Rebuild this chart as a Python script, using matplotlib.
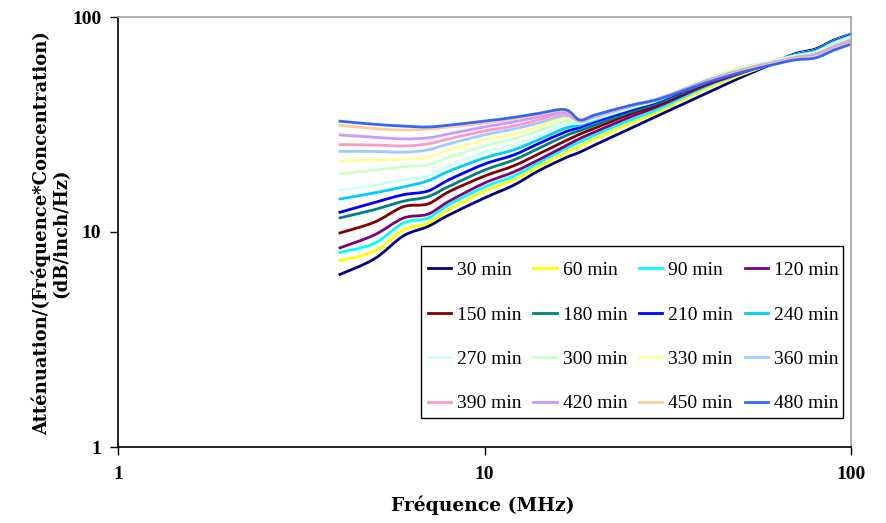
import matplotlib
matplotlib.use("Agg")
import numpy as np
import matplotlib.pyplot as plt
from matplotlib.ticker import FixedLocator, NullLocator, FixedFormatter
from matplotlib.path import Path
from matplotlib.patches import PathPatch, Rectangle
from matplotlib.lines import Line2D

plt.rcParams['font.family'] = ['Liberation Serif', 'DejaVu Serif']

freq = [4, 5, 6, 7, 8, 10, 12, 14, 16.6, 18.2, 20, 25, 30, 40, 50, 60, 70, 80, 90, 100]

labels = ["30 min", "60 min", "90 min", "120 min", "150 min", "180 min", "210 min", "240 min",
          "270 min", "300 min", "330 min", "360 min", "390 min", "420 min", "450 min", "480 min"]

s30 = [6.31, 7.49, 9.58, 10.6, 12.0, 14.4, 16.5, 19.2, 22.1, 23.5, 25.4, 30.3, 35.0, 43.9, 52.3, 59.8, 67.3, 71.0, 78.2, 83.1]
s60 = [7.35, 8.12, 10.2, 11.0, 12.7, 15.5, 17.5, 20.1, 23.3, 25.0, 27.1, 32.0, 36.5, 46.3, 53.7, 60.1, 66.6, 70.2, 77.4, 82.5]
s90 = [8.01, 8.84, 11.0, 11.6, 13.4, 16.2, 18.2, 20.9, 24.4, 26.2, 28.3, 33.2, 37.5, 47.3, 54.6, 60.8, 66.6, 70.2, 77.4, 82.5]
s120 = [8.40, 9.68, 11.6, 12.1, 13.9, 16.9, 19.0, 21.6, 25.1, 27.2, 29.2, 34.3, 38.6, 48.0, 54.8, 60.8, 66.2, 69.8, 76.9, 82.1]
s150 = [9.86, 11.1, 13.1, 13.5, 15.4, 18.2, 20.3, 23.0, 26.5, 28.5, 30.4, 35.4, 39.4, 48.8, 55.5, 60.8, 65.9, 69.5, 76.5, 81.6]
s180 = [11.6, 12.7, 13.9, 14.6, 16.3, 19.4, 21.6, 24.4, 28.0, 29.6, 31.4, 36.1, 40.0, 49.3, 56.1, 61.1, 65.9, 69.5, 76.5, 81.6]
s210 = [12.3, 13.7, 14.9, 15.5, 17.5, 20.7, 22.8, 25.7, 29.2, 30.6, 32.5, 36.9, 40.7, 49.9, 56.7, 61.5, 66.2, 69.8, 76.9, 82.1]
s240 = [14.2, 15.2, 16.2, 17.3, 19.2, 22.1, 24.1, 26.8, 30.4, 31.4, 33.2, 37.5, 41.1, 50.4, 57.3, 61.8, 66.2, 69.5, 76.5, 81.6]
s270 = [15.6, 16.5, 17.5, 18.2, 20.3, 23.6, 25.4, 28.0, 31.8, 32.0, 33.6, 37.7, 41.3, 50.9, 58.3, 62.1, 65.9, 68.7, 75.7, 80.7]
s300 = [18.6, 19.4, 20.1, 20.5, 22.3, 25.1, 27.1, 29.5, 32.8, 32.3, 33.9, 37.9, 41.5, 50.9, 58.0, 61.8, 65.5, 68.4, 74.9, 79.8]
s330 = [21.4, 21.6, 21.8, 22.3, 24.1, 26.8, 28.6, 30.8, 33.9, 32.5, 34.1, 38.1, 41.6, 50.6, 57.3, 61.5, 65.2, 68.0, 74.1, 79.0]
s360 = [23.7, 23.7, 23.5, 24.1, 25.7, 28.3, 30.1, 32.1, 34.8, 32.7, 34.3, 38.4, 41.7, 50.4, 56.7, 61.1, 64.8, 67.3, 73.3, 78.2]
s390 = [25.5, 25.4, 25.1, 25.7, 27.1, 29.5, 31.1, 33.2, 35.6, 32.8, 34.5, 38.5, 41.8, 50.1, 56.4, 60.8, 64.5, 66.6, 72.5, 77.4]
s420 = [28.3, 27.6, 27.1, 27.4, 28.6, 30.8, 32.5, 34.3, 36.3, 33.0, 34.6, 38.6, 41.8, 49.9, 56.1, 60.4, 64.1, 66.2, 71.7, 76.5]
s450 = [31.4, 30.3, 29.8, 30.1, 30.8, 32.1, 33.6, 35.2, 36.7, 33.1, 34.8, 38.7, 41.8, 49.6, 55.8, 60.1, 63.8, 65.5, 71.0, 75.7]
s480 = [32.8, 31.7, 31.1, 30.8, 31.4, 32.8, 34.1, 35.6, 37.1, 33.2, 35.0, 38.8, 41.6, 49.3, 55.2, 59.5, 63.1, 64.5, 70.2, 74.7]

series = [s30, s60, s90, s120, s150, s180, s210, s240,
          s270, s300, s330, s360, s390, s420, s450, s480]

colors = ["#000080", "#FFFF00", "#00FFFF", "#800080", "#800000", "#008080", "#0000FF", "#00CCFF",
          "#CCFFFF", "#CCFFCC", "#FFFF99", "#99CCFF", "#FF99CC", "#CC99FF", "#FFCC99", "#3366FF"]

ticks = [1, 10, 100]
tick_labels = ["1", "10", "100"]


def smoothed_path(x, y):
    """Smoothed (Catmull-Rom style) line through the data points, built in log space."""
    P = np.column_stack([np.log10(x), np.log10(y)])
    n = len(P)
    verts = [P[0]]
    codes = [Path.MOVETO]
    for i in range(n - 1):
        p0 = P[i - 1] if i > 0 else P[i]
        p1 = P[i]
        p2 = P[i + 1]
        p3 = P[i + 2] if i + 2 < n else P[i + 1]
        verts += [p1 + (p2 - p0) / 6.0, p2 - (p3 - p1) / 6.0, p2]
        codes += [Path.CURVE4] * 3
    return Path(10 ** np.array(verts), codes)


W, H = 886, 523
fig = plt.figure(figsize=(W / 100, H / 100), dpi=100)
ax = fig.add_axes([118 / W, 1 - 447 / H, (851 - 118) / W, (447 - 17) / H])

handles = []
for vals, c, lab in zip(series, colors, labels):
    ax.add_patch(PathPatch(smoothed_path(freq, vals), facecolor='none', edgecolor=c,
                           lw=2.0, joinstyle='round', capstyle='butt'))
    handles.append(Line2D([], [], color=c, lw=2.0, label=lab))

ax.set_xscale('log')
ax.set_yscale('log')
ax.set_xlim(1, 100)
ax.set_ylim(1, 100)
for a in (ax.xaxis, ax.yaxis):
    a.set_major_locator(FixedLocator(ticks))
    a.set_major_formatter(FixedFormatter(tick_labels))
    a.set_minor_locator(NullLocator())

ax.tick_params(axis='both', which='major', direction='out', length=6, width=1, colors='black',
               labelsize=14)
ax.tick_params(axis='y', pad=6)
ax.tick_params(axis='x', pad=8)
for lbl in ax.get_xticklabels() + ax.get_yticklabels():
    lbl.set_fontweight('bold')

ax.spines['left'].set_color('black')
ax.spines['bottom'].set_color('black')
ax.spines['top'].set_color('#A0A0A0')
ax.spines['right'].set_color('#A0A0A0')
for s in ax.spines.values():
    s.set_linewidth(1.2)

fig.text(483 / W, 1 - 505 / H, "Fréquence (MHz)", ha='center', va='center',
         fontsize=13.5, fontweight='bold', family=['DejaVu Serif'])
fig.text(51 / W, 1 - 233 / H, "Atténuation/(Fréquence*Concentration)\n(dB/inch/Hz)",
         ha='center', va='center', rotation=90, fontsize=13, fontweight='bold',
         multialignment='center', linespacing=1.1, family=['DejaVu Serif'])

# row-wise legend order (4 columns)
order = [r * 4 + c for c in range(4) for r in range(4)]
leg = ax.legend([handles[i] for i in order], [labels[i] for i in order],
                ncol=4, loc='upper left', bbox_to_anchor=(428 / W, 1 - 261.5 / H),
                bbox_transform=fig.transFigure, frameon=False,
                fontsize=14, handlelength=1.2, handletextpad=0.3,
                columnspacing=0.6, labelspacing=1.38, borderpad=0, borderaxespad=0)

fig.add_artist(Rectangle((421 / W, 1 - 418 / H), (843 - 421) / W, (418 - 246) / H,
                         transform=fig.transFigure, fill=False, edgecolor='black', lw=1.0))

fig.savefig("out.png", dpi=100)
